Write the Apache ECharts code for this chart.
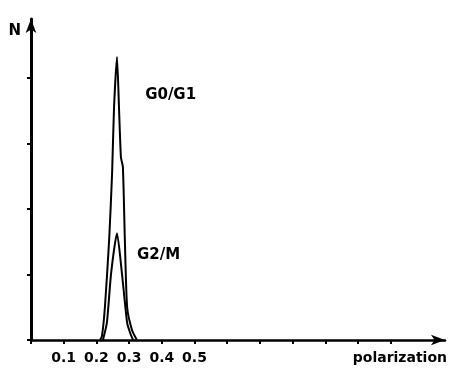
<!DOCTYPE html>
<html>
<head>
<meta charset="utf-8">
<script src="https://cdn.jsdelivr.net/npm/echarts@6/dist/echarts.min.js"></script>
<style>
  html, body { margin: 0; padding: 0; background: #fff; }
  #chart { width: 455px; height: 368px; }
</style>
</head>
<body>
<div id="chart"></div>
<script>
// outer curve (G0/G1), [polarization, N]
const g0g1 = [
    [0.211, 0], [0.217, 0.06], [0.226, 0.50], [0.239, 1.53], [0.248, 2.55],
    [0.254, 3.56], [0.263, 4.32], [0.269, 3.56], [0.275, 2.79], [0.281, 2.64],
    [0.287, 1.53], [0.294, 0.50], [0.309, 0.15], [0.324, 0]
];
// inner curve (G2/M)
const g2m = [
    [0.220, 0], [0.232, 0.26], [0.245, 1.02], [0.263, 1.63],
    [0.278, 1.02], [0.294, 0.26], [0.303, 0.11], [0.312, 0]
];
const xTicks = [0, 0.1, 0.2, 0.3, 0.4, 0.5, 0.6, 0.7, 0.8, 0.9, 1.0, 1.1];
const xLabels = [0.1, 0.2, 0.3, 0.4, 0.5];
const yTicks = [0, 1, 2, 3, 4];

const font = '"DejaVu Sans", sans-serif';
let chart = echarts.init(document.getElementById("chart"));

function curve(name, data, tag, at) {
    return {
        name: name,
        type: 'line',
        data: data,
        symbol: 'none',
        smooth: 0.2,
        lineStyle: { color: '#000', width: 2 },
        markPoint: {
            symbol: 'circle',
            symbolSize: 0,
            data: [ { coord: at } ],
            label: {
                show: true,
                position: 'right',
                distance: 0,
                formatter: tag,
                color: '#000',
                fontFamily: font,
                fontWeight: 'bold',
                fontSize: 15
            }
        }
    };
}

let option = {
    animation: false,
    grid: { left: 31, right: 10, top: 19, bottom: 28 },
    xAxis: {
        type: 'value',
        min: 0,
        max: 1.266,
        name: 'polarization',
        nameLocation: 'end',
        nameGap: 2,
        nameTextStyle: {
            color: '#000', fontFamily: font, fontSize: 14, fontWeight: 'bold',
            align: 'right', verticalAlign: 'top', padding: [11, 0, 0, 0]
        },
        axisLine: {
            lineStyle: { color: '#000', width: 2.5 },
            symbol: ['none', 'arrow'],
            symbolSize: [8, 14]
        },
        axisTick: { customValues: xTicks, length: 4, lineStyle: { color: '#000', width: 2 } },
        axisLabel: {
            customValues: xLabels,
            color: '#000', fontFamily: font, fontSize: 14, fontWeight: 'bold', margin: 11,
            formatter: v => v.toFixed(1)
        },
        splitLine: { show: false }
    },
    yAxis: {
        type: 'value',
        min: 0,
        max: 4.9,
        name: 'N',
        nameLocation: 'end',
        nameGap: -12,
        nameTextStyle: {
            color: '#000', fontFamily: font, fontSize: 15, fontWeight: 'bold',
            align: 'right', verticalAlign: 'middle', padding: [0, 10, 0, 0]
        },
        axisLine: {
            show: true,
            lineStyle: { color: '#000', width: 3 },
            symbol: ['none', 'arrow'],
            symbolSize: [8, 14]
        },
        axisTick: { show: true, customValues: yTicks, length: 4, lineStyle: { color: '#000', width: 2 } },
        axisLabel: { show: false },
        splitLine: { show: false }
    },
    series: [
        curve('G0/G1', g0g1, 'G0/G1', [0.349, 3.74]),
        curve('G2/M', g2m, 'G2/M', [0.324, 1.30])
    ]
};
chart.setOption(option);
</script>
</body>
</html>
